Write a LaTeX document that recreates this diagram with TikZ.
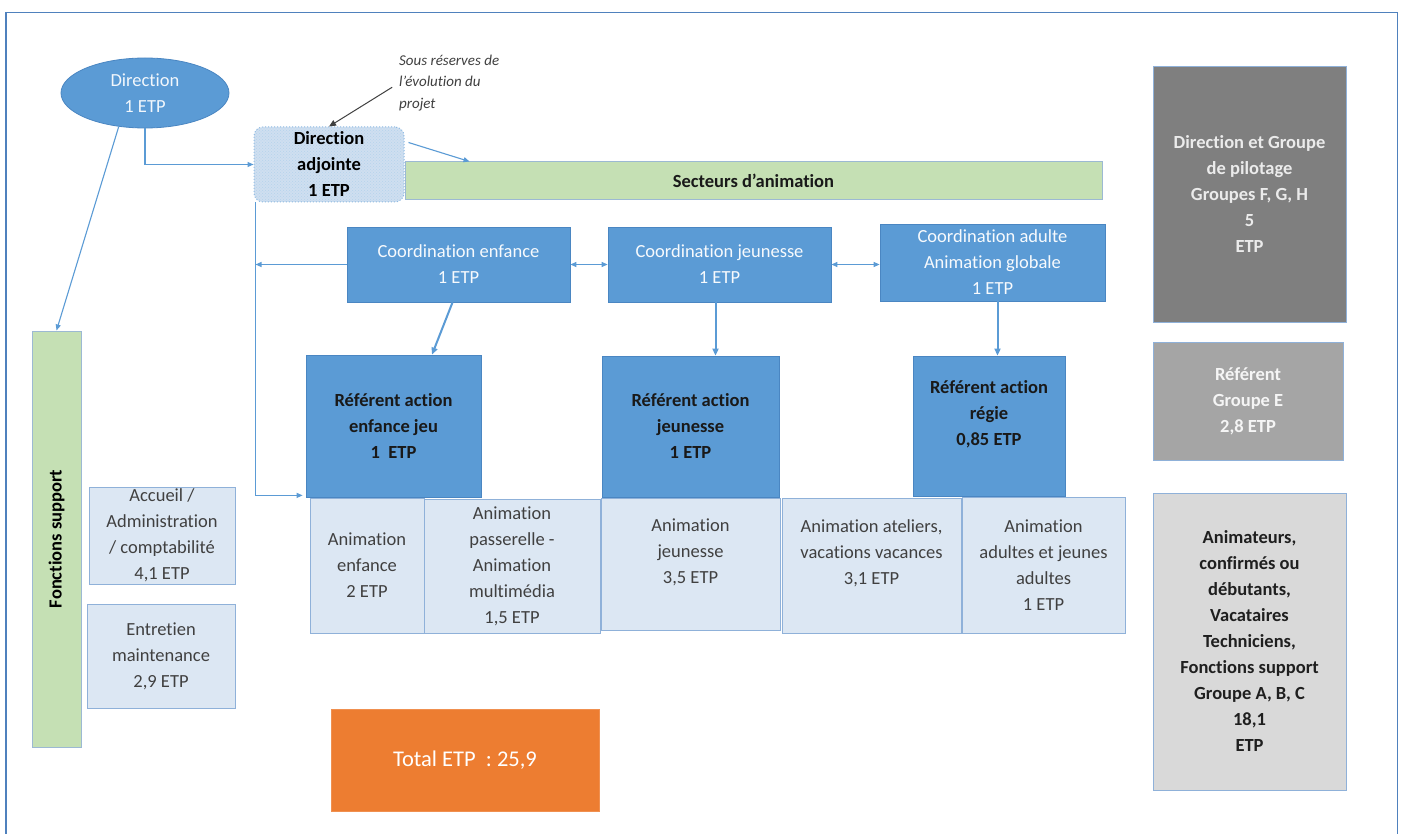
\documentclass[tikz,border=0pt]{standalone}
\usepackage{fontspec}
\setmainfont{Carlito}[Ligatures=NoCommon]
\usetikzlibrary{arrows.meta,calc,shapes.geometric,patterns}
\definecolor{cblue}{HTML}{5B9BD5}
\definecolor{cblueedge}{HTML}{4A86C2}
\definecolor{clight}{HTML}{DCE7F3}
\definecolor{clightedge}{HTML}{8FB1D9}
\definecolor{cgreen}{HTML}{C5E0B4}
\definecolor{cgreenedge}{HTML}{9CB9D3}
\definecolor{cdark}{HTML}{7F7F7F}
\definecolor{cmid}{HTML}{A5A5A5}
\definecolor{cpale}{HTML}{D9D9D9}
\definecolor{corange}{HTML}{ED7D31}
\definecolor{cframe}{HTML}{4F81BD}
\definecolor{ctext}{HTML}{404040}
\begin{document}
\begin{tikzpicture}[x=1pt,y=-1pt,
  every node/.style={inner sep=0pt, align=center, font=\fontsize{18.5}{26}\selectfont},
  boldtxt/.style={font=\fontsize{18.5}{26}\selectfont\bfseries},
  bluebox/.style={rectangle, fill=cblue, draw=cblueedge, line width=0.8pt, text=white!95!cblue},
  refbox/.style={rectangle, fill=cblue, draw=cblueedge, line width=0.8pt, text=black!90, boldtxt},
  lightbox/.style={rectangle, fill=clight, draw=clightedge, line width=1pt, text=ctext},
  greenbar/.style={rectangle, fill=cgreen, draw=cgreenedge, line width=1pt, text=black!90, boldtxt},
  greybox/.style={rectangle, draw=clightedge, line width=1pt, boldtxt},
  conn/.style={draw=cblue, line width=1.1pt, -{Triangle[length=6pt,width=5pt]}},
  bothconn/.style={draw=cblue, line width=1.1pt, {Triangle[length=6pt,width=5pt]}-{Triangle[length=6pt,width=5pt]}},
  thickconn/.style={draw=cblue, line width=2pt, -{Triangle[length=7pt,width=6pt]}}
]
\useasboundingbox (0,0) rectangle (1404,834);
\fill[white] (0,0) rectangle (1404,834);
\draw[cframe, line width=1.5pt] (6,836) -- (6,12.5) -- (1397.5,12.5) -- (1397.5,836);

% top
\node[ellipse, fill=cblue, draw=cblueedge, line width=0.8pt, minimum width=168pt, minimum height=70pt, text=white!92!cblue] (dir) at (145,93) {Direction\\1 ETP};
\node[anchor=west, align=left, font=\fontsize{15}{21.5}\selectfont\itshape, text=ctext] (note) at (399,83) {Sous réserves de\\l’évolution du\\projet};
\node[rectangle, rounded corners=9pt, fill=clight!90!cblue, draw=cblue!70, dotted, line width=1pt, minimum width=150pt, minimum height=75pt, boldtxt, text=black,
  postaction={pattern=crosshatch dots, pattern color=cblue!45}] (adj) at (329,164.5) {Direction\\adjointe\\1 ETP};
\node[greenbar, minimum width=697pt, minimum height=38pt] (sect) at (753.5,181) {Secteurs d’animation};

% coordination
\node[bluebox, minimum width=223pt, minimum height=75pt] (coordE) at (458.5,264.5) {Coordination enfance\\1 ETP};
\node[bluebox, minimum width=223pt, minimum height=75pt] (coordJ) at (719.5,264.5) {Coordination jeunesse\\1 ETP};
\node[bluebox, minimum width=225pt, minimum height=77pt] (coordA) at (992.5,262.5) {Coordination adulte\\Animation globale\\1 ETP};

% referents
\node[refbox, minimum width=175pt, minimum height=142pt] (refE) at (393.5,426) {Référent action\\enfance jeu\\1~~ETP};
\node[refbox, minimum width=177pt, minimum height=141pt] (refJ) at (690.5,426.5) {Référent action\\jeunesse\\1 ETP};
\node[refbox, minimum width=152pt, minimum height=140pt] (refR) at (989,426) {Référent action\\régie\\0,85 ETP\\\mbox{}};

% animation boxes
\node[lightbox, minimum width=114pt, minimum height=135pt] (animE) at (367,565.5) {Animation\\enfance\\2 ETP};
\node[lightbox, minimum width=176pt, minimum height=134pt] (animP) at (512,566) {Animation\\passerelle -\\Animation\\multimédia\\1,5 ETP};
\node[lightbox, minimum width=179pt, minimum height=132pt] (animJ) at (690.5,564) {Animation\\jeunesse\\3,5 ETP\\\mbox{}};
\node[lightbox, minimum width=179pt, minimum height=135pt] (animA) at (871.5,565.5) {Animation ateliers,\\vacations vacances\\3,1 ETP\\\mbox{}};
\node[lightbox, minimum width=163pt, minimum height=136pt] (animAd) at (1043.5,565) {Animation\\adultes et jeunes\\adultes\\1 ETP};

% left side
\node[greenbar, minimum width=49pt, minimum height=416pt] (fs) at (56.5,539) {};
\node[rotate=90, boldtxt, text=black] (fstxt) at (fs.center) {Fonctions support};
\node[lightbox, minimum width=146pt, minimum height=97pt] (acc) at (162,535.5) {Accueil /\\Administration\\/ comptabilité\\4,1 ETP};
\node[lightbox, minimum width=148pt, minimum height=104pt] (ent) at (161,656) {Entretien\\maintenance\\2,9 ETP};

% total
\node[rectangle, fill=corange, draw=corange!85!white, line width=1pt, minimum width=268pt, minimum height=102pt, text=white, font=\fontsize{22.5}{27}\selectfont] (total) at (465,760) {Total ETP~~:~25,9};

% right legend
\node[greybox, fill=cdark, text=white!92!black, minimum width=193pt, minimum height=255pt] (g1) at (1249.5,194.5) {Direction et Groupe\\de pilotage\\Groupes F, G, H\\5\\ETP};
\node[greybox, fill=cmid, text=white!96!black, minimum width=190pt, minimum height=118pt] (g2) at (1248,401) {Référent\\Groupe E\\2,8 ETP};
\node[greybox, fill=cpale, text=black!88, minimum width=193pt, minimum height=297pt] (g3) at (1249.5,641.5) {Animateurs,\\confirmés ou\\débutants,\\Vacataires\\Techniciens,\\Fonctions support\\Groupe A, B, C\\18,1\\ETP};

% connectors
\coordinate (vl) at ($(adj.south west)+(2,0)$);
\coordinate (etop) at ($(coordE.south)+(-6,0)$);
\coordinate (ebot) at ($(refE.north)+(38.5,0)$);
\coordinate (jtop) at ($(coordJ.south)+(-4,0)$);
\coordinate (atop) at ($(coordA.south)+(5,0)$);
\draw[conn] (dir.south) |- (adj.west);
\draw[conn] (dir.232) -- (fs.north);
\draw[draw=ctext, line width=1pt, -{Triangle[length=7pt,width=6pt]}, shorten <=8pt] (note.west) -- (adj.north);
\draw[conn] ($(adj.north east)+(4,16)$) -- ($(sect.north west)+(65,0)$);
\draw[conn] (vl) |- ($(refE.south west)+(-3,-2)$);
\draw[conn] (coordE.west) -- (coordE.west -| vl);
\draw[bothconn] (coordE.east) -- (coordJ.west);
\draw[bothconn] (coordJ.east) -- (coordJ.east -| coordA.west);
\draw[thickconn] (etop) -- (ebot);
\draw[thickconn] (jtop) -- (jtop |- refJ.north);
\draw[thickconn] (atop) -- (atop |- refR.north);
\end{tikzpicture}
\end{document}
